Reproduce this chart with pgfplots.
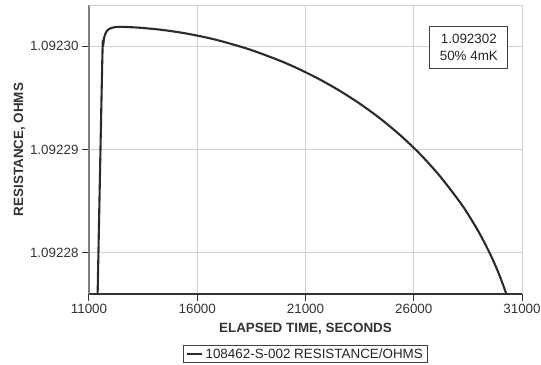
\documentclass[border=0pt]{standalone}
\usepackage{pgfplots}
\pgfplotsset{compat=1.18}
\usepackage{fontspec}
\setmainfont{Liberation Sans}
\definecolor{curve}{HTML}{2B2B2B}
\definecolor{gridc}{HTML}{D2D2D2}
\begin{document}
\begin{tikzpicture}
\begin{axis}[
  scale only axis,
  width=433bp, height=289bp,
  xmin=11000, xmax=31000,
  ymin=7.6, ymax=10.4,
  scaled x ticks=false, scaled y ticks=false,
  xtick={11000,16000,21000,26000,31000},
  xticklabels={11000,16000,21000,26000,31000},
  ytick={8,9,10},
  yticklabels={1.09228,1.09229,1.09230},
  font=\fontsize{13.4bp}{16bp}\selectfont,
  tick label style={font=\fontsize{13.4bp}{16bp}\selectfont, text=black!80},
  xlabel={\bfseries ELAPSED TIME, SECONDS},
  ylabel={\bfseries RESISTANCE, OHMS},
  label style={text=black!80},
  xlabel style={yshift=-2bp},
  ylabel style={yshift=-2bp},
  grid=major,
  grid style={gridc, line width=0.8bp},
  axis x line*=bottom,
  axis y line*=left,
  x axis line style={-, draw=black!80, line width=1.2bp},
  y axis line style={-, draw=black!50, line width=1.2bp},
  tick align=outside,
  major tick length=7bp,
  xtick style={draw=black!80, line width=1bp},
  ytick style={draw=black!80, line width=1bp},
  legend style={at={(0.5,-0.177)}, anchor=north, draw=black!75, line width=0.8bp,
    font=\fontsize{13.4bp}{16bp}\selectfont, text=black!85, inner xsep=3bp, inner ysep=1bp},
  legend image code/.code={\draw[#1, line width=2.4bp] (0bp,0bp) -- (15bp,0bp);},
  clip=true,
]
\draw[gridc, line width=0.8bp] (rel axis cs:0,1) -- (rel axis cs:1,1);
\addplot[curve, line width=2.1bp, smooth, tension=0.5] coordinates {
(11393,7.542)
(11614,9.8645)
(11656,10.0097)
(11716,10.0968)
(11831,10.150)
(12016,10.1761)
(12247,10.1867)
(12432,10.1887)
(12894,10.1852)
(13356,10.1795)
(14279,10.1613)
(15203,10.1342)
(16127,10.0982)
(17051,10.0531)
(18437,9.9678)
(19822,9.8599)
(20746,9.7746)
(21670,9.6773)
(22594,9.5671)
(23517,9.4425)
(24441,9.3012)
(25365,9.1404)
(26289,8.9563)
(27213,8.7406)
(28136,8.4893)
(28598,8.3428)
(29060,8.1787)
(29522,7.9906)
(29892,7.8161)
(30261,7.6101)
(30446,7.4881)
};
\addlegendentry{108462-S-002 RESISTANCE/OHMS}
\node[draw=black!75, line width=0.8bp, fill=white, align=center, inner sep=0pt,
  minimum width=78bp, minimum height=42bp, text=black!85,
  font=\fontsize{13.4bp}{16.5bp}\selectfont] at (axis cs:28545,9.99) {1.092302\\50\% 4mK};
\coordinate (bl) at (rel axis cs:0,0);
\coordinate (tr) at (rel axis cs:1,1);
\end{axis}
\pgfresetboundingbox
\path[use as bounding box] ([shift={(-89bp,-71bp)}]bl) rectangle ([shift={(19bp,5bp)}]tr);
\end{tikzpicture}
\end{document}
